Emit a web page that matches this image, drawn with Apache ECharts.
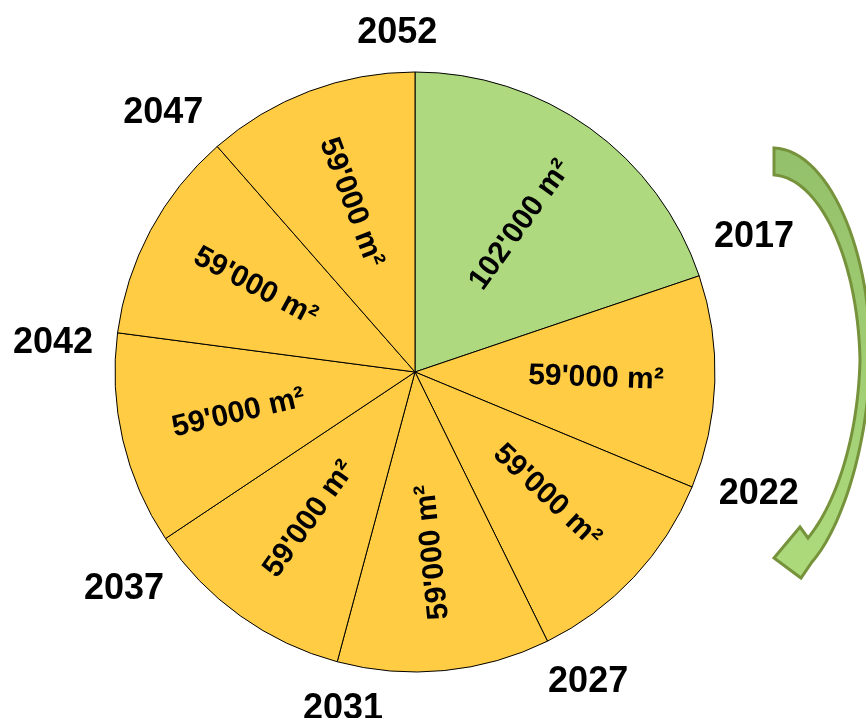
<!DOCTYPE html>
<html>
<head>
<meta charset="utf-8">
<script src="https://cdn.jsdelivr.net/npm/echarts@6/dist/echarts.min.js"></script>
<style>
  html, body { margin: 0; padding: 0; background: #fff; }
  #chart { width: 866px; height: 718px; }
</style>
</head>
<body>
<div id="chart"></div>
<script>
// ---- data ----
const areas = [102000, 59000, 59000, 59000, 59000, 59000, 59000, 59000];
const areaUnit = 'm²';
const boundaryYears = ['2052', '2017', '2022', '2027', '2031', '2037', '2042', '2047'];
const sliceColors = ['#aed97e', '#ffcc44', '#ffcc44', '#ffcc44', '#ffcc44', '#ffcc44', '#ffcc44', '#ffcc44'];

// ---- helpers ----
function fmt(v) {
  return String(v).replace(/\B(?=(\d{3})+(?!\d))/g, "'") + ' ' + areaUnit;
}

const CENTER = [415, 372];
const R = 300;
const FONT = '"Liberation Sans", Arial, sans-serif';
const YEAR_FS = 36;
const YEAR_SHIFT = 3;            // degrees counter-clockwise
const YEAR_RING = [330, 410];    // label anchor ring
const YEAR_GAP = 19;             // gap between circle and label box

// decorative curved arrow outline (sampled cubic beziers)
function bezierPts(p0, p1, p2, p3, n) {
  const out = [];
  for (let k = 1; k <= n; k++) {
    const t = k / n, u = 1 - t;
    out.push([
      u*u*u*p0[0] + 3*u*u*t*p1[0] + 3*u*t*t*p2[0] + t*t*t*p3[0],
      u*u*u*p0[1] + 3*u*u*t*p1[1] + 3*u*t*t*p2[1] + t*t*t*p3[1]
    ]);
  }
  return out;
}
let arrowPts = [[774, 148]];
arrowPts = arrowPts.concat(bezierPts([774,148],[828,150],[872,250],[870,360],30));
arrowPts = arrowPts.concat(bezierPts([870,360],[868,450],[840,530],[812,562],30));
arrowPts.push([801,578],[774,558],[800,527],[808,538]);
arrowPts = arrowPts.concat(bezierPts([808,538],[835,505],[858,440],[860,360],30));
arrowPts = arrowPts.concat(bezierPts([860,360],[858,260],[820,178],[774,175],30));

// visible pie
const mainData = areas.map((v, i) => ({
  value: v,
  itemStyle: { color: sliceColors[i] }
}));

// label pie (inner value labels)
const labelData = areas.map((v, i) => {
  const d = { value: v, name: fmt(v) };
  if (i === 3) d.label = { rotate: 96 };
  return d;
});

// year labels at slice boundaries: tiny slices sitting on each boundary
const total = areas.reduce((a, b) => a + b, 0);
const EPS = 1e-6;
const yearData = [];
const yearShift = [];
let cum = 0;
const ringMid = (YEAR_RING[0] + YEAR_RING[1]) / 2;
areas.forEach((v, i) => {
  const th = (cum / total * 360 - YEAR_SHIFT) * Math.PI / 180;
  const hw = boundaryYears[i].length * 0.556 * YEAR_FS / 2;
  const hh = YEAR_FS * 0.42;
  const want = R + YEAR_GAP + hw * Math.abs(Math.sin(th)) + hh * Math.abs(Math.cos(th));
  const s = ringMid - want;
  yearShift.push([-Math.sin(th) * s, Math.cos(th) * s], [0, 0]);
  yearData.push({ value: EPS, name: boundaryYears[i], label: { show: true } });
  yearData.push({ value: v - EPS, name: '', label: { show: false } });
  cum += v;
});

const chart = echarts.init(document.getElementById('chart'), null, { renderer: 'canvas' });
chart.setOption({
  animation: false,
  backgroundColor: '#ffffff',
  series: [
    {
      type: 'pie',
      center: CENTER,
      radius: [0, R],
      startAngle: 90,
      clockwise: true,
      silent: true,
      label: { show: false },
      labelLine: { show: false },
      itemStyle: { borderColor: '#000', borderWidth: 1 },
      emphasis: { disabled: true },
      data: mainData
    },
    {
      type: 'pie',
      center: CENTER,
      radius: [56, R],
      startAngle: 90,
      clockwise: true,
      silent: true,
      avoidLabelOverlap: false,
      itemStyle: { color: 'rgba(0,0,0,0)', borderWidth: 0 },
      label: {
        show: true,
        position: 'inside',
        rotate: 'radial',
        formatter: '{b}',
        color: '#000',
        fontFamily: FONT,
        fontWeight: 'bold',
        fontSize: 30
      },
      labelLine: { show: false },
      emphasis: { disabled: true },
      data: labelData
    },
    {
      type: 'pie',
      center: CENTER,
      radius: YEAR_RING,
      startAngle: 90 + YEAR_SHIFT,
      clockwise: true,
      silent: true,
      avoidLabelOverlap: false,
      minShowLabelAngle: 0,
      itemStyle: { color: 'rgba(0,0,0,0)', borderWidth: 0 },
      label: {
        position: 'inside',
        rotate: 0,
        formatter: '{b}',
        color: '#000',
        fontFamily: FONT,
        fontWeight: 'bold',
        fontSize: YEAR_FS
      },
      labelLine: { show: false },
      labelLayout: function (p) {
        const d = yearShift[p.dataIndex] || [0, 0];
        return { dx: d[0], dy: d[1] };
      },
      emphasis: { disabled: true },
      data: yearData
    }
  ],
  graphic: [
    {
      type: 'polygon',
      silent: true,
      shape: { points: arrowPts },
      style: {
        fill: {
          type: 'linear', x: 0, y: 0, x2: 0, y2: 1,
          colorStops: [
            { offset: 0, color: '#93c06a' },
            { offset: 1, color: '#addb7c' }
          ]
        },
        stroke: '#76933c',
        lineWidth: 3,
        lineJoin: 'miter'
      }
    }
  ]
});
</script>
</body>
</html>
